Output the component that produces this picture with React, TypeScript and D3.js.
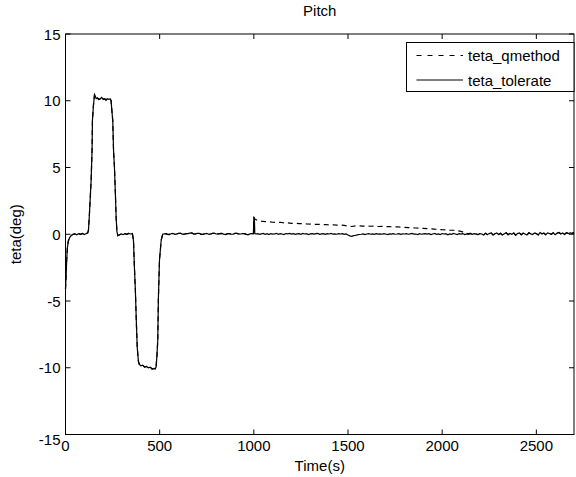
import React from "react";
import * as d3 from "d3";

// ---- Data ----
// Shared segment (both estimators identical before t = 1000 s)
const timeA: number[] = [
  0, 3, 6, 10, 15, 22, 30, 40, 50, 60, 70, 80, 90, 100, 110, 118, 122, 127, 131, 136,
  141, 143, 148, 154, 158, 163, 170, 177, 185, 192, 200, 208, 215, 222, 230, 237, 242, 246, 251, 255,
  260, 265, 269, 273, 278, 285, 295, 305, 315, 325, 335, 345, 355, 358, 361, 366, 371, 376, 381, 387,
  392, 400, 410, 420, 430, 440, 450, 460, 470, 476, 481, 486, 490, 493, 499, 508, 516,
];
const pitchA: number[] = [
  -4.1, -3.2, -2.0, -1.0, -0.5, -0.25, -0.1, 0.0, 0.03, -0.04, 0.05, 0.0, 0.06, -0.02, 0.05, 0.1, 0.3, 1.5, 2.6, 4.0,
  6.3, 8.5, 9.6, 10.45, 10.35, 10.15, 10.2, 10.1, 10.15, 10.25, 10.1, 10.15, 10.05, 10.15, 10.1, 10.15, 10.0, 9.3, 8.5, 6.3,
  5.0, 3.0, 1.2, 0.2, -0.1, -0.05, 0.02, -0.03, 0.05, 0.0, 0.06, 0.02, 0.05, -0.2, -0.5, -2.5, -4.2, -6.5, -8.5, -9.5,
  -9.75, -9.85, -9.8, -9.95, -9.9, -10.0, -9.95, -10.1, -10.05, -10.1, -9.95, -9.0, -7.9, -4.95, -1.95, -0.45, 0.0,
];
// Flat part 530..990 s, every 10 s
const timeFlat: number[] = d3.range(530, 1000, 10);
const pitchFlat: number[] = [
  0.05, 0.01, -0.02, 0.04, 0.06, 0.0, 0.02, 0.07, 0.08, 0.01,
  0.0, 0.05, 0.05, 0.09, 0.1, 0.02, 0.03, 0.06, 0.07, -0.01,
  -0.01, 0.04, 0.06, 0.0, 0.02, 0.07, 0.08, 0.02, 0.03, 0.05,
  0.06, 0.01, -0.02, 0.04, 0.05, 0.0, 0.01, 0.06, 0.07, 0.02,
  0.02, 0.05, 0.04, -0.01, -0.03, 0.03, 0.05,
];

// teta_tolerate after 1000 s
const timeTolSpike: number[] = [998, 1000, 1003, 1005];
const tolSpike: number[] = [0.05, 1.25, 1.2, 0.05];
const timeTolRest: number[] = d3.range(1010, 2710, 10);
const tolRest: number[] = [
  0.02, 0.05, -0.01, 0.03, 0.06, 0.0, 0.04, -0.02, 0.05, 0.01,
  0.03, 0.07, 0.0, 0.04, 0.02, -0.02, 0.05, 0.03, 0.06, 0.01,
  0.04, -0.01, 0.03, 0.05, 0.0, 0.06, 0.02, 0.04, -0.02, 0.03,
  0.05, 0.01, 0.04, 0.06, 0.0, 0.03, 0.05, -0.01, 0.04, 0.02,
  0.06, 0.01, 0.03, 0.0, 0.04, 0.02, 0.05, -0.01, 0.02,
  -0.06, -0.12, -0.15, -0.1, -0.08, -0.04, -0.02,
  0.0, 0.03, -0.02, 0.02, 0.05, 0.0, 0.03, -0.01, 0.04, 0.01,
  0.03, 0.0, 0.05, 0.02, -0.02, 0.03, 0.01, 0.04, 0.0, 0.02,
  0.05, -0.01, 0.03, 0.02, 0.04, 0.0, 0.03, 0.06, 0.01, 0.02,
  -0.02, 0.04, 0.0, 0.03, 0.05, 0.01, 0.04, -0.03, 0.02, 0.06,
  0.0, 0.03, -0.02, 0.05, 0.02, 0.04, -0.04, 0.03, 0.0, 0.06,
  0.02, -0.03, 0.04, 0.01, 0.05, -0.02, 0.03, 0.0, 0.06, -0.01,
  0.04, 0.02, -0.03, 0.05,
  0.02, -0.06, 0.08, -0.03, 0.05, 0.1, -0.05, 0.04, 0.09, -0.02,
  0.07, -0.06, 0.03, 0.11, -0.04, 0.06, 0.0, 0.09, -0.07, 0.05,
  0.1, -0.03, 0.08, 0.02, -0.06, 0.11, 0.04, -0.02, 0.09, 0.05,
  -0.05, 0.12, 0.03, 0.08, -0.04, 0.1, 0.06, 0.0, 0.11, -0.03,
  0.08, 0.13, 0.02, 0.09, -0.02, 0.12, 0.05, 0.1, 0.07, 0.12,
];

// teta_qmethod after 1000 s (slow decay), rejoins teta_tolerate after ~2140 s
const timeQ: number[] = [998, 1000, 1005, ...d3.range(1020, 2160, 20)];
const qmethodB: number[] = [
  0.05, 1.3, 1.15,
  1.02, 0.98, 0.95, 0.93, 0.9, 0.88, 0.9, 0.85, 0.86, 0.82,
  0.83, 0.79, 0.8, 0.77, 0.76, 0.74, 0.75, 0.72, 0.73, 0.7,
  0.71, 0.68, 0.69, 0.66, 0.62, 0.58, 0.62, 0.63, 0.61, 0.62,
  0.6, 0.61, 0.58, 0.59, 0.57, 0.58, 0.55, 0.56, 0.53, 0.52,
  0.5, 0.49, 0.47, 0.46, 0.44, 0.42, 0.41, 0.38, 0.36, 0.34,
  0.33, 0.31, 0.3, 0.27, 0.22, 0.12, 0.04,
];

const xTicks: number[] = [0, 500, 1000, 1500, 2000, 2500];
const yTicks: number[] = [-15, -10, -5, 0, 5, 10, 15];
const seriesNames: string[] = ["teta_qmethod", "teta_tolerate"];

type Pt = [number, number];
const zip = (t: number[], v: number[]): Pt[] => t.map((x, i) => [x, v[i]] as Pt);

const shared: Pt[] = [...zip(timeA, pitchA), ...zip(timeFlat, pitchFlat)];
const tolerate: Pt[] = [...shared, ...zip(timeTolSpike, tolSpike), ...zip(timeTolRest, tolRest)];
const qLast = timeQ[timeQ.length - 1];
const qmethod: Pt[] = [
  ...shared,
  ...zip(timeQ, qmethodB),
  ...zip(timeTolRest, tolRest).filter((p) => p[0] > qLast),
];

export default function App() {
  const W = 576;
  const H = 477;
  const L = 65.5;
  const R = 574;
  const T = 34;
  const B = 434.5;
  const x = d3.scaleLinear().domain([0, 2700]).range([L, R]);
  const y = d3.scaleLinear().domain([-15, 15]).range([B, T]);
  const line = d3
    .line<Pt>()
    .x((d) => x(d[0]))
    .y((d) => y(d[1]));
  const font = "'Liberation Sans', Arial, Helvetica, sans-serif";
  const fs = 15;
  const tk = 5;

  const lgX = 406.5;
  const lgY = 42.5;
  const lgW = 167.5;
  const lgH = 49;

  return (
    <svg
      width={W}
      height={H}
      style={{ position: "absolute", left: 0, top: 0, background: "#fff" }}
      fontFamily={font}
    >
      <rect x={0} y={0} width={W} height={H} fill="#fff" />
      {/* data */}
      <g fill="none" stroke="#000" strokeWidth={1.2}>
        <path d={line(qmethod) || ""} strokeDasharray="5,4" />
        <path d={line(tolerate) || ""} />
      </g>
      {/* frame */}
      <rect x={L} y={T} width={R - L} height={B - T} fill="none" stroke="#000" strokeWidth={1} />
      {/* x ticks */}
      {xTicks.map((t) => (
        <g key={"x" + t}>
          <line x1={x(t)} x2={x(t)} y1={B} y2={B - tk} stroke="#000" />
          <line x1={x(t)} x2={x(t)} y1={T} y2={T + tk} stroke="#000" />
          <text x={x(t)} y={B + 16} fontSize={fs} textAnchor="middle">
            {t}
          </text>
        </g>
      ))}
      {/* y ticks */}
      {yTicks.map((t) => (
        <g key={"y" + t}>
          <line x1={L} x2={L + tk} y1={y(t)} y2={y(t)} stroke="#000" />
          <line x1={R} x2={R - tk} y1={y(t)} y2={y(t)} stroke="#000" />
          <text
            x={L - 5}
            y={y(t) + (t === -15 ? 5 : 0)}
            fontSize={fs}
            textAnchor="end"
            dominantBaseline="central"
          >
            {t}
          </text>
        </g>
      ))}
      {/* title and axis labels */}
      <text x={(L + R) / 2} y={16} fontSize={fs} textAnchor="middle">
        Pitch
      </text>
      <text x={(L + R) / 2} y={471} fontSize={fs} textAnchor="middle">
        Time(s)
      </text>
      <text
        transform={`translate(21,${(T + B) / 2}) rotate(-90)`}
        fontSize={fs}
        textAnchor="middle"
      >
        teta(deg)
      </text>
      {/* legend */}
      <g>
        <rect x={lgX} y={lgY} width={lgW} height={lgH} fill="#fff" stroke="#000" strokeWidth={1} />
        {seriesNames.map((name, i) => {
          const ly = lgY + 13 + i * 24.5;
          return (
            <g key={name}>
              <line
                x1={416.5}
                x2={463}
                y1={ly}
                y2={ly}
                stroke="#000"
                strokeWidth={1}
                strokeDasharray={i === 0 ? "5,6" : undefined}
              />
              <text x={468} y={ly} fontSize={fs} dominantBaseline="central">
                {name}
              </text>
            </g>
          );
        })}
      </g>
    </svg>
  );
}
